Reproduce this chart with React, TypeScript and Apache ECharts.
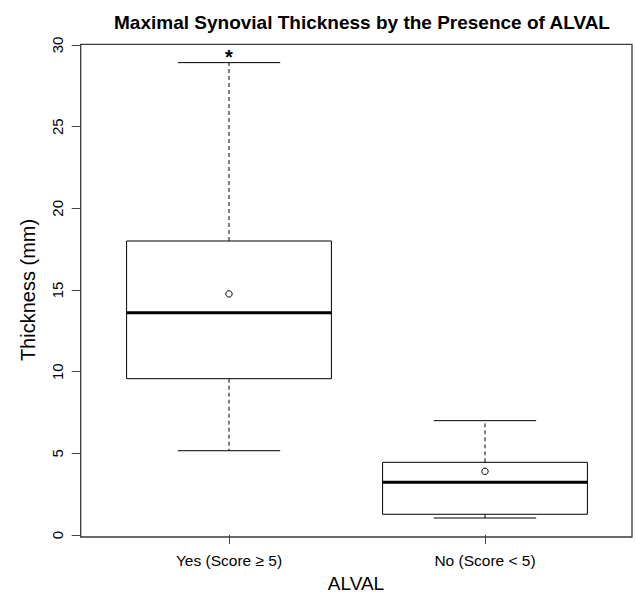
import React, { useEffect, useRef } from "react";
import * as echarts from "echarts";

const categories = ["Yes (Score ≥ 5)", "No (Score < 5)"];
const whiskerLow = [5.16, 1.04];
const q1 = [9.57, 1.27];
const median = [13.6, 3.23];
const q3 = [18.0, 4.45];
const whiskerHigh = [28.92, 7.0];
const means = [14.76, 3.9];
const sigMarks: (number | null)[] = [29.45, null];
const yTicks = [0, 5, 10, 15, 20, 25, 30];

const FONT = "'Liberation Sans', Arial, Helvetica, sans-serif";

export default function App() {
  const ref = useRef<HTMLDivElement>(null);
  useEffect(() => {
    document.body.style.margin = "0";
    if (!ref.current) return;
    const chart = echarts.init(ref.current, null, { renderer: "svg" });
    const data = categories.map((_, i) => [
      i,
      whiskerLow[i],
      q1[i],
      median[i],
      q3[i],
      whiskerHigh[i],
      means[i],
    ]);
    const option: any = {
      animation: false,
      backgroundColor: "#ffffff",
      textStyle: { fontFamily: FONT },
      grid: { left: 101, right: 23, top: 45, bottom: 60, containLabel: false },
      xAxis: {
        type: "category",
        data: categories,
        offset: 2,
        axisLine: { show: false },
        axisTick: { show: true, alignWithLabel: true, length: 9, lineStyle: { color: "#444", width: 1 } },
        axisLabel: { color: "#000", fontSize: 15.5, fontFamily: FONT, margin: 15 },
        splitLine: { show: false },
      },
      yAxis: {
        type: "value",
        min: yTicks[0],
        max: yTicks[yTicks.length - 1],
        interval: 5,
        offset: 20.3,
        axisLine: { show: false },
        axisTick: { show: true, length: 9, lineStyle: { color: "#444", width: 1 } },
        axisLabel: { color: "#000", fontSize: 15, fontFamily: FONT, rotate: 90, margin: 16 },
        splitLine: { show: false },
      },
      graphic: [
        {
          type: "rect",
          shape: { x: 80.7, y: 44.3, width: 551.3, height: 492.7 },
          style: { fill: "none", stroke: "#3a3a3a", lineWidth: 1.3 },
          silent: true,
          z: 10,
        },
        {
          type: "text",
          x: 362,
          y: 22,
          style: {
            text: "Maximal Synovial Thickness by the Presence of ALVAL",
            fontSize: 19,
            fontWeight: "bold",
            fontFamily: FONT,
            fill: "#000",
            align: "center",
            verticalAlign: "middle",
          },
        },
        {
          type: "text",
          x: 28,
          y: 290,
          rotation: Math.PI / 2,
          style: {
            text: "Thickness (mm)",
            fontSize: 20,
            fontFamily: FONT,
            fill: "#000",
            align: "center",
            verticalAlign: "middle",
          },
        },
        {
          type: "text",
          x: 356,
          y: 583,
          style: {
            text: "ALVAL",
            fontSize: 19,
            fontFamily: FONT,
            fill: "#000",
            align: "center",
            verticalAlign: "middle",
          },
        },
      ],
      series: [
        {
          type: "custom",
          clip: false,
          encode: { x: 0, y: [1, 2, 3, 4, 5, 6] },
          data,
          renderItem: (params: any, api: any) => {
            const idx = api.value(0);
            const halfW = api.size([1, 0])[0] * 0.4;
            const pLow = api.coord([idx, api.value(1)]);
            const pQ1 = api.coord([idx, api.value(2)]);
            const pMed = api.coord([idx, api.value(3)]);
            const pQ3 = api.coord([idx, api.value(4)]);
            const pHigh = api.coord([idx, api.value(5)]);
            const pMean = api.coord([idx, api.value(6)]);
            const cx = pMed[0];
            const capW = halfW / 2;
            const children: any[] = [
              {
                type: "line",
                shape: { x1: cx, y1: pQ3[1], x2: cx, y2: pHigh[1] },
                style: { stroke: "#000", lineWidth: 1, lineDash: [4, 3] },
              },
              {
                type: "line",
                shape: { x1: cx, y1: pQ1[1], x2: cx, y2: pLow[1] },
                style: { stroke: "#000", lineWidth: 1, lineDash: [4, 3] },
              },
              {
                type: "line",
                shape: { x1: cx - capW, y1: pHigh[1], x2: cx + capW, y2: pHigh[1] },
                style: { stroke: "#000", lineWidth: 1 },
              },
              {
                type: "line",
                shape: { x1: cx - capW, y1: pLow[1], x2: cx + capW, y2: pLow[1] },
                style: { stroke: "#000", lineWidth: 1 },
              },
              {
                type: "rect",
                shape: { x: cx - halfW, y: pQ3[1], width: halfW * 2, height: pQ1[1] - pQ3[1] },
                style: { fill: "#fff", stroke: "#000", lineWidth: 1 },
              },
              {
                type: "line",
                shape: { x1: cx - halfW, y1: pMed[1], x2: cx + halfW, y2: pMed[1] },
                style: { stroke: "#000", lineWidth: 3 },
              },
              {
                type: "circle",
                shape: { cx: pMean[0], cy: pMean[1], r: 3.2 },
                style: { fill: "#fff", stroke: "#000", lineWidth: 1 },
              },
            ];
            const sig = sigMarks[idx];
            if (sig !== null && sig !== undefined) {
              const pSig = api.coord([idx, sig]);
              children.push({
                type: "text",
                x: cx,
                y: pSig[1] + 3,
                style: {
                  text: "*",
                  fontSize: 20,
                  fontWeight: "bold",
                  fontFamily: FONT,
                  fill: "#000",
                  align: "center",
                  verticalAlign: "middle",
                },
              });
            }
            return { type: "group", children };
          },
        },
      ],
    };
    chart.setOption(option);
    return () => chart.dispose();
  }, []);
  return <div ref={ref} style={{ width: 636, height: 595 }} />;
}
